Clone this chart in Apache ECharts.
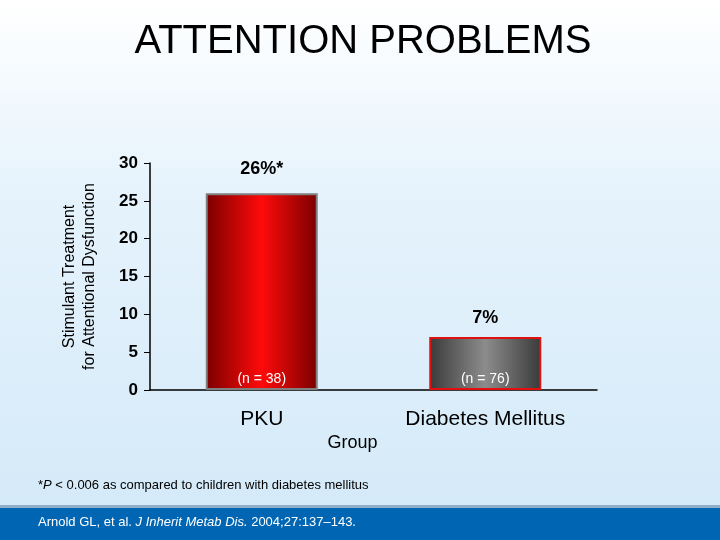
<!DOCTYPE html>
<html><head><meta charset="utf-8">
<script src="https://cdn.jsdelivr.net/npm/echarts@6/dist/echarts.min.js"></script>
<style>html,body{margin:0;padding:0}#c{width:720px;height:540px}</style>
</head><body><div id="c"></div>
<script>
const categories = ['PKU', 'Diabetes Mellitus'];
const values = [26, 7];
const topLabels = ['26%*', '7%'];
const nLabels = ['(n = 38)', '(n = 76)'];
const yTicks = [0, 5, 10, 15, 20, 25, 30];

const chart = echarts.init(document.getElementById('c'));
const font = 'Liberation Sans, Arial, sans-serif';

const redFill = new echarts.graphic.LinearGradient(0, 0, 1, 0, [
  { offset: 0, color: '#7a0000' }, { offset: 0.5, color: '#ff0a0a' }, { offset: 1, color: '#7a0000' }]);
const grayFill = new echarts.graphic.LinearGradient(0, 0, 1, 0, [
  { offset: 0, color: '#3a3a3a' }, { offset: 0.5, color: '#8c8c8c' }, { offset: 1, color: '#3a3a3a' }]);

chart.setOption({
  backgroundColor: new echarts.graphic.LinearGradient(0, 0, 0, 1, [
    { offset: 0, color: '#ffffff' }, { offset: 0.35, color: '#e6f3fc' }, { offset: 1, color: '#d3e9f8' }]),
  title: {
    text: 'ATTENTION PROBLEMS', left: 358, top: 17, textAlign: 'center',
    textStyle: { fontFamily: font, fontSize: 40, fontWeight: 'normal', color: '#000' }
  },
  grid: { left: 150, top: 163, width: 447, height: 227 },
  xAxis: {
    type: 'category', data: categories,
    name: 'Group', nameLocation: 'middle', nameGap: 44,
    nameTextStyle: { fontFamily: font, fontSize: 18, color: '#000', padding: [0, 42, 0, 0] },
    axisLine: { lineStyle: { color: '#000', width: 1.5 } },
    axisTick: { show: false },
    axisLabel: { margin: 19, fontFamily: font, fontSize: 21, color: '#000' }
  },
  yAxis: {
    type: 'value', min: 0, max: 30, interval: 5,
    name: 'Stimulant Treatment\nfor Attentional Dysfunction',
    nameLocation: 'middle', nameGap: 50, nameRotate: 90,
    nameTextStyle: { fontFamily: font, fontSize: 16, color: '#000', lineHeight: 20 },
    axisLine: { show: true, lineStyle: { color: '#000', width: 1.5 } },
    axisTick: { show: true, inside: false, length: 6, lineStyle: { color: '#000' } },
    splitLine: { show: false },
    axisLabel: {
      margin: 12, fontFamily: font, fontSize: 17, fontWeight: 'bold', color: '#000',
      formatter: v => yTicks.includes(v) ? String(v) : ''
    }
  },
  series: [{
    type: 'bar', barWidth: 112,
    data: values.map((v, i) => ({
      value: v,
      itemStyle: i === 0
        ? { color: redFill, borderColor: '#808080', borderWidth: 2 }
        : { color: grayFill, borderColor: '#e01010', borderWidth: 2 },
      label: {
        show: true, position: 'top', distance: i === 0 ? 15 : 10,
        formatter: topLabels[i], fontFamily: font, fontSize: 18, fontWeight: 'bold', color: '#000'
      }
    }))
  }, {
    type: 'custom',
    data: values.map((v, i) => [i, 0]),
    renderItem: (params, api) => {
      const p = api.coord([api.value(0), 0]);
      return { type: 'text', x: p[0], y: p[1] - 4,
        style: { text: nLabels[params.dataIndex], textAlign: 'center', textVerticalAlign: 'bottom',
          font: '14px ' + font, fill: '#fff' } };
    },
    z: 10
  }],
  graphic: [
    { type: 'rect', left: 0, top: 507, shape: { width: 720, height: 33 }, style: { fill: '#0066b3' } },
    { type: 'rect', left: 0, top: 505, shape: { width: 720, height: 3 }, style: { fill: '#8fb0c8' } },
    { type: 'text', left: 38, top: 479,
      style: { text: '*{i|P} < 0.006 as compared to children with diabetes mellitus',
        font: '13px ' + font, fill: '#000',
        rich: { i: { fontStyle: 'italic', fontSize: 13, fontFamily: font } } } },
    { type: 'text', left: 38, top: 516,
      style: { text: 'Arnold GL, et al. {i|J Inherit Metab Dis.} 2004;27:137–143.',
        font: '13px ' + font, fill: '#fff',
        rich: { i: { fontStyle: 'italic', fontSize: 13, fontFamily: font, color: '#fff' } } } }
  ]
});
</script></body></html>
